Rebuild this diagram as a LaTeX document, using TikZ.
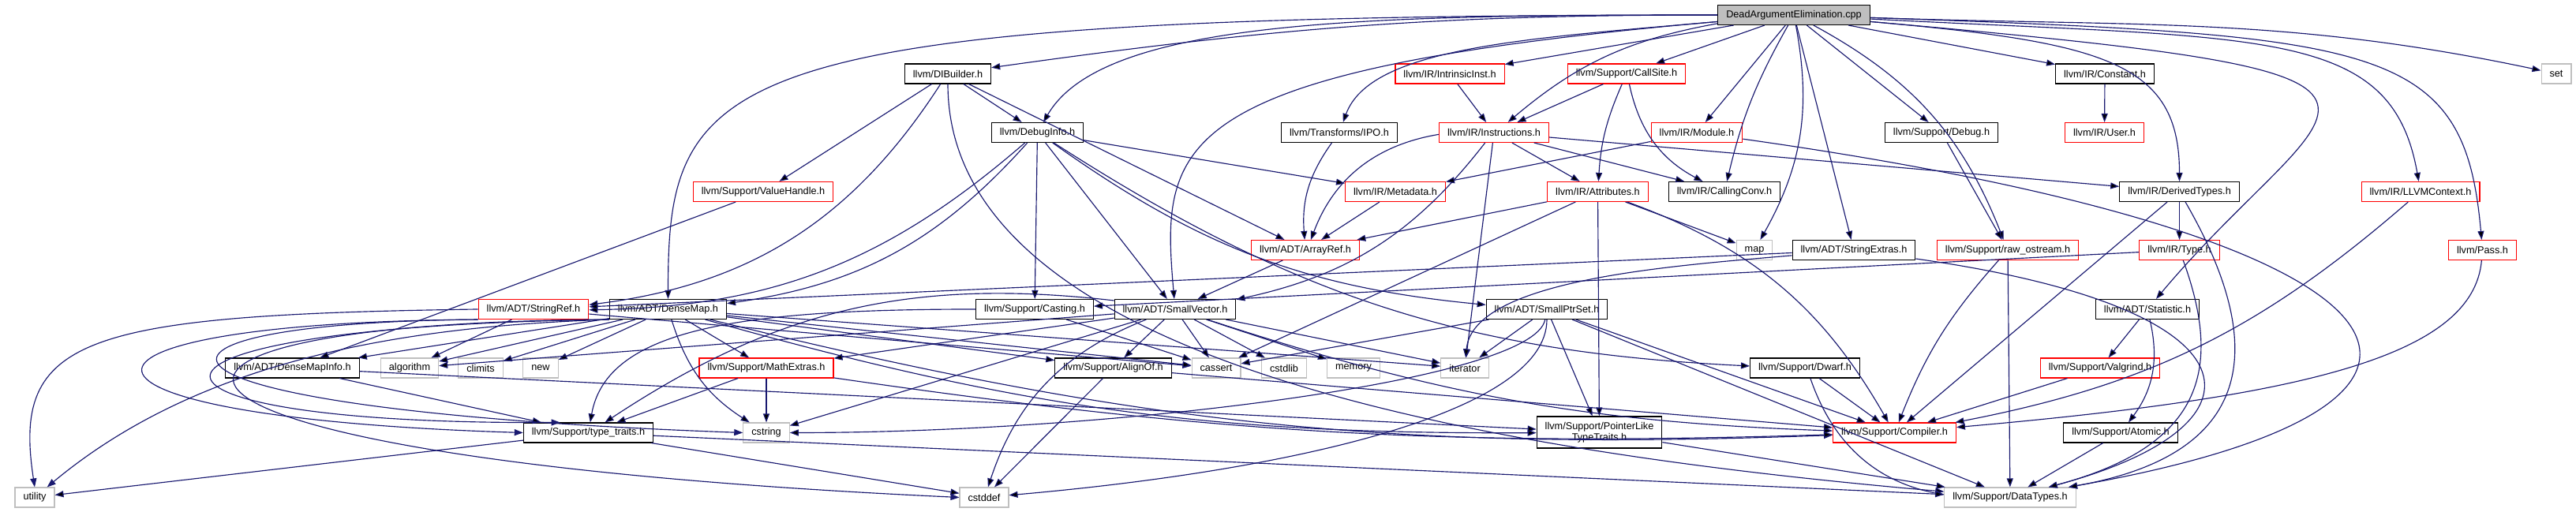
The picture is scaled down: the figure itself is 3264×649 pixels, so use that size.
\documentclass[tikz,border=0pt]{standalone}
\usepackage{fontspec}
\setmainfont{Liberation Sans}
\usepackage{xcolor}
\usepackage{tikz}
\usetikzlibrary{arrows.meta}
\definecolor{midnight}{HTML}{191970}
\definecolor{grey75}{HTML}{BFBFBF}

\begin{document}
\begin{tikzpicture}[x=0.2pt, y=0.2pt,
    file/.style={draw=black, line width=0.22pt, rectangle, inner xsep=2.1pt, inner ysep=0pt,
                 minimum height=5pt, font=\fontsize{2.54}{2.86}\selectfont},
    trunc/.style={file, draw=red},
    sys/.style={file, draw=grey75},
    main/.style={file, fill=grey75},
    inc/.style={-{Triangle[length=2.2pt,width=1.6pt]}, draw=midnight, line width=0.23pt}]

        \useasboundingbox (0,0) rectangle (3264,649);

        \node[main] (root) at (2273,630) {DeadArgumentElimination.cpp};

        \node[file] (dib) at (1201,555.5) {llvm/DIBuilder.h};
        \node[trunc] (intr) at (1837,555.5) {llvm/IR/IntrinsicInst.h};
        \node[trunc] (csite) at (2061,555.5) {llvm/Support/CallSite.h};
        \node[file] (const) at (2667,555.5) {llvm/IR/Constant.h};
        \node[sys] (set) at (3239,555.5) {set};

        \node[file] (dinfo) at (1314.5,481) {llvm/DebugInfo.h};
        \node[file] (ipo) at (1697,481) {llvm/Transforms/IPO.h};
        \node[trunc] (instr) at (1893,481) {llvm/IR/Instructions.h};
        \node[trunc] (module) at (2150,481) {llvm/IR/Module.h};
        \node[file] (debug) at (2460,481) {llvm/Support/Debug.h};
        \node[trunc] (user) at (2666.5,481) {llvm/IR/User.h};

        \node[trunc] (vhandle) at (967,406) {llvm/Support/ValueHandle.h};
        \node[trunc] (meta) at (1768,406) {llvm/IR/Metadata.h};
        \node[trunc] (attr) at (2024.5,406) {llvm/IR/Attributes.h};
        \node[file] (cconv) at (2185,406) {llvm/IR/CallingConv.h};
        \node[file] (dtypes) at (2761.5,406) {llvm/IR/DerivedTypes.h};
        \node[trunc] (ctx) at (3067,406) {llvm/IR/LLVMContext.h};

        \node[trunc] (aref) at (1654,332) {llvm/ADT/ArrayRef.h};
        \node[sys] (map) at (2223,332) {map};
        \node[file] (sext) at (2349,332) {llvm/ADT/StringExtras.h};
        \node[trunc] (rawos) at (2544,332) {llvm/Support/raw\_ostream.h};
        \node[trunc] (type) at (2761.5,332) {llvm/IR/Type.h};
        \node[trunc] (pass) at (3145.5,332) {llvm/Pass.h};

        \node[trunc] (sref) at (676,257) {llvm/ADT/StringRef.h};
        \node[file] (dmap) at (846.5,257) {llvm/ADT/DenseMap.h};
        \node[file] (cast) at (1311,257) {llvm/Support/Casting.h};
        \node[file] (svec) at (1489,257) {llvm/ADT/SmallVector.h};
        \node[file] (sptr) at (1960,257) {llvm/ADT/SmallPtrSet.h};
        \node[file] (stat) at (2721,257) {llvm/ADT/Statistic.h};

        \node[file] (dminfo) at (370.5,182.5) {llvm/ADT/DenseMapInfo.h};
        \node[sys] (algo) at (519,182.5) {algorithm};
        \node[sys] (climits) at (609,182.5) {climits};
        \node[sys] (new) at (685,182.5) {new};
        \node[trunc] (mathx) at (971,182.5) {llvm/Support/MathExtras.h};
        \node[file] (align) at (1410.5,182.5) {llvm/Support/AlignOf.h};
        \node[sys] (cassert) at (1541,182.5) {cassert};
        \node[sys] (cstdlib) at (1627,182.5) {cstdlib};
        \node[sys] (memory) at (1715,182.5) {memory};
        \node[sys] (iter) at (1856,182.5) {iterator};
        \node[file] (dwarf) at (2287,182.5) {llvm/Support/Dwarf.h};
        \node[trunc] (valg) at (2661,182.5) {llvm/Support/Valgrind.h};

        \node[file] (ttraits) at (745.5,100.5) {llvm/Support/type\_traits.h};
        \node[sys] (cstring) at (971,100.5) {cstring};
        \node[file, align=center, minimum height=8pt] (ptrlike) at (2026.5,101) {llvm/Support/PointerLike\\TypeTraits.h};
        \node[trunc] (comp) at (2400.5,100.5) {llvm/Support/Compiler.h};
        \node[file] (atomic) at (2687,100.5) {llvm/Support/Atomic.h};

        \node[sys] (utility) at (44,18.5) {utility};
        \node[sys] (cstddef) at (1247,18.5) {cstddef};
        \node[sys] (dtypesh) at (2547,18.5) {llvm/Support/DataTypes.h};

        \path[inc]
        (root) edge[out=180, in=8] (dib)
        (root) edge[out=180, in=60, out distance=90pt, in distance=30pt] (dinfo)
        (root) edge[out=185, in=70, out distance=50pt, in distance=20pt] (ipo)
        (root) edge (intr)
        (root) edge[bend right=15] (instr)
        (root) edge (csite)
        (root) edge (module)
        (root) edge[bend right=8] (cconv)
        (root) edge[bend left=20] (map)
        (root) edge (sext)
        (root) edge (debug)
        (root) edge[bend left=20] (rawos)
        (root) edge (const)
        (root) edge[out=-5, in=90, out distance=60pt, in distance=30pt] (dtypes)
        (root) edge[out=-3, in=100, out distance=100pt, in distance=40pt] (ctx)
        (root) edge[out=-2, in=95, out distance=130pt, in distance=50pt] (pass)
        (root) edge[out=-2, in=168] (set)
        (root) edge[out=-5, in=50, out distance=160pt, in distance=70pt] (stat)
        (root) edge[out=180, in=90, out distance=255pt, in distance=58pt] (dmap)
        (root) edge[out=185, in=95, out distance=140pt, in distance=40pt] (svec);

        \path[inc]
        (dib) edge (vhandle)
        (dib) edge (dinfo)
        (dib) edge (aref)
        (dib) edge[bend left=25] (sref)
        (dib) edge[out=-90, in=175, out distance=70pt, in distance=120pt] (dtypesh)
        (dinfo) edge[bend left=20] (sref)
        (dinfo) edge[bend left=20] (dmap)
        (dinfo) edge (cast)
        (dinfo) edge (svec)
        (dinfo) edge[bend right=15] (sptr)
        (dinfo) edge[bend right=15] (dwarf)
        (dinfo) edge (meta)
        (intr) edge (instr)
        (csite) edge (instr)
        (csite) edge[bend right=10] (attr)
        (csite) edge[bend right=25] (cconv)
        (const) edge (user)
        (ipo) edge[bend right=20] (aref)
        (instr) edge[bend right=30] (aref)
        (instr) edge[bend left=20] (svec)
        (instr) edge (iter)
        (instr) edge (attr)
        (instr) edge (cconv)
        (instr) edge (dtypes)
        (module) edge (meta)
        (module) edge[out=-8, in=10, out distance=180pt, in distance=120pt] (dtypesh)
        (debug) edge (rawos)
        (vhandle) edge (dminfo)
        (meta) edge (aref);

        \path[inc]
        (attr) edge (aref)
        (attr) edge (cassert)
        (attr) edge (ptrlike)
        (attr) edge[bend left=20] (comp)
        (attr) edge (map)
        (dtypes) edge (type)
        (dtypes) edge (comp)
        (dtypes) edge[out=-60, in=10, out distance=40pt, in distance=50pt] (dtypesh)
        (ctx) edge[bend left=15] (comp)
        (pass) edge[out=-95, in=5, out distance=24pt, in distance=90pt] (comp)
        (aref) edge (svec)
        (sext) edge (sref)
        (sext) edge[out=185, in=85, out distance=30pt, in distance=20pt] (iter)
        (sext) edge[out=-8, in=15, out distance=90pt, in distance=60pt] (dtypesh)
        (rawos) edge[bend right=10] (comp)
        (rawos) edge (dtypesh)
        (type) edge (cast)
        (type) edge[out=-70, in=15, out distance=30pt, in distance=40pt] (dtypesh);

        \path[inc]
        (sref) edge (algo)
        (sref) edge (cassert)
        (dmap) edge (dminfo)
        (dmap) edge (algo)
        (dmap) edge (climits)
        (dmap) edge (new)
        (dmap) edge (mathx)
        (dmap) edge[bend right=20] (cstring)
        (dmap) edge (cassert)
        (dmap) edge (iter)
        (dmap) edge (align)
        (dmap) edge[bend right=8] (comp)
        (dmap) edge[bend right=8] (ptrlike)
        (cast) edge[out=180, in=80, out distance=60pt, in distance=24pt] (ttraits)
        (cast) edge (cassert)
        (svec) edge (align)
        (svec) edge (cassert)
        (svec) edge (cstdlib)
        (svec) edge (memory)
        (svec) edge (iter)
        (svec) edge[bend right=25] (cstddef)
        (svec) edge (algo)
        (svec) edge (mathx)
        (svec) edge[bend right=20] (ttraits)
        (svec) edge (cstring)
        (svec) edge[bend right=8] (comp)
        (sptr) edge (cassert)
        (sptr) edge (iter)
        (sptr) edge[out=-100, in=0, out distance=16pt, in distance=80pt] (cstring)
        (sptr) edge[out=-90, in=5, out distance=24pt, in distance=70pt] (cstddef)
        (sptr) edge (ptrlike)
        (sptr) edge (dtypesh)
        (sptr) edge (comp);

        \path[inc]
        (stat) edge (valg)
        (stat) edge[bend left=25] (atomic)
        (dminfo) edge (ptrlike)
        (dminfo) edge (ttraits)
        (mathx) edge (ttraits)
        (mathx) edge (cstring)
        (mathx) edge[bend right=5] (comp)
        (align) edge (cstddef)
        (align) edge (comp)
        (dwarf) edge (comp)
        (dwarf) edge[bend right=30] (dtypesh)
        (valg) edge (comp)
        (ttraits) edge (utility)
        (ttraits) edge (cstddef)
        (ttraits) edge (dtypesh)
        (ptrlike) edge (dtypesh)
        (atomic) edge (dtypesh);

        \draw[inc] (sref.west) .. controls (100,250) and (15,220) .. (utility.north);
        \draw[inc] (dmap.south west) .. controls (500,235) and (250,190) .. (utility);
        \draw[inc] (sref.south west) .. controls (30,240) and (30,120) .. (ttraits.west);
        \draw[inc] (sref.south west) .. controls (120,240) and (120,130) .. (cstring.west);
        \draw[inc] (dmap.south west) .. controls (100,235) and (120,110) .. (ttraits.160);
        \draw[inc] (dmap.south west) .. controls (60,240) and (100,70) .. (cstddef.west);

    \end{tikzpicture}
\end{document}
